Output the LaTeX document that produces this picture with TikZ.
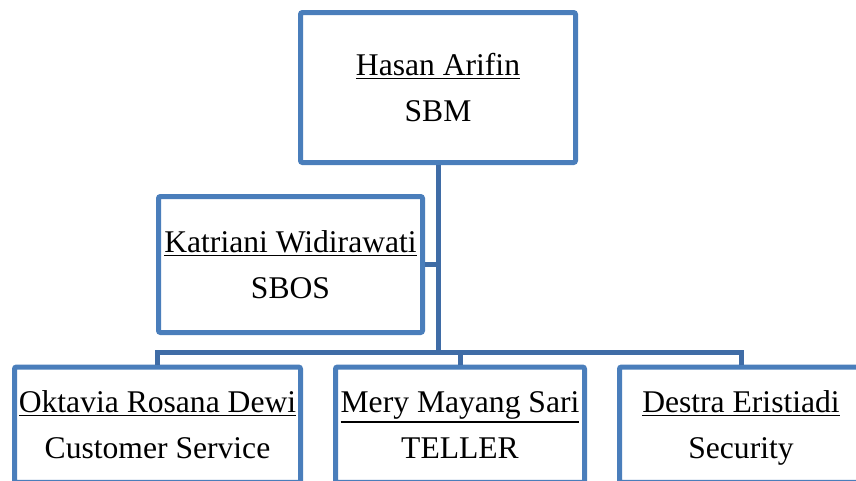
\documentclass[tikz,border=0pt]{standalone}
\usepackage{fontspec}
\setmainfont{Liberation Serif}
\newfontfamily\orgfont{Liberation Serif}
\usepackage{xcolor}
\definecolor{boxBlue}{HTML}{4A7EBB}
\definecolor{linkBlue}{HTML}{3F6CA6}
\usepackage{tikz}
\usetikzlibrary{
    positioning,
    calc
}
% underlined name over the role
\newcommand{\uname}[1]{\vtop{\hbox{#1}\kern1.6pt\hrule height 1pt}}
\newcommand{\staff}[2]{\uname{\rule{0pt}{21pt}#1}\\#2\vphantom{y}}
\tikzset{
    % Base style for all boxes
    org base/.style={
        font=\orgfont\fontsize{23.7}{34.5}\selectfont,
        align=center,
        text=black,
        inner sep=0pt,
    },
    % Person boxes - white rectangle with blue border
    person/.style={
        org base,
        rectangle,
        rounded corners=1.5pt,
        draw=boxBlue,
        line width=3.75pt,
        fill=white,
    },
    % Connector lines
    link/.style={
        draw=linkBlue,
        line width=3.75pt,
    },
}

\begin{document}
\begin{tikzpicture}[x=0.75pt, y=-0.75pt]
    \useasboundingbox (0,0) rectangle (856,480);
    \clip (0,0) rectangle (856,480);

    \node (sbm) [person, minimum width=206.25pt, minimum height=112.5pt] at (438,87.5) {\staff{Hasan Arifin}{SBM}};
    \node (sbos) [person, minimum width=198pt, minimum height=102pt] at (290.5,264.5) {\staff{Katriani Widirawati}{SBOS}};
    \node (cs) [person, minimum width=214.5pt, minimum height=86.6pt] at (157.5,424.75) {\staff{Oktavia Rosana Dewi}{Customer Service}};
    \node (teller) [person, minimum width=186.75pt, minimum height=86.6pt] at (460,424.75) {\staff{Mery Mayang Sari}{TELLER}};
    \node (security) [person, minimum width=182.25pt, minimum height=86.6pt] at (741,424.75) {\staff{Destra Eristiadi}{Security}};
    \coordinate (bus) at (438,352);

    \draw [link] (sbm.south) -- (bus);
    \draw [link] (sbos.east) -- (sbos.east -| bus);
    \draw [link] (cs.north) |- (bus -| teller.north) -| (security.north);
    \draw [link] (teller.north) -- (bus -| teller.north);
\end{tikzpicture}
\end{document}
